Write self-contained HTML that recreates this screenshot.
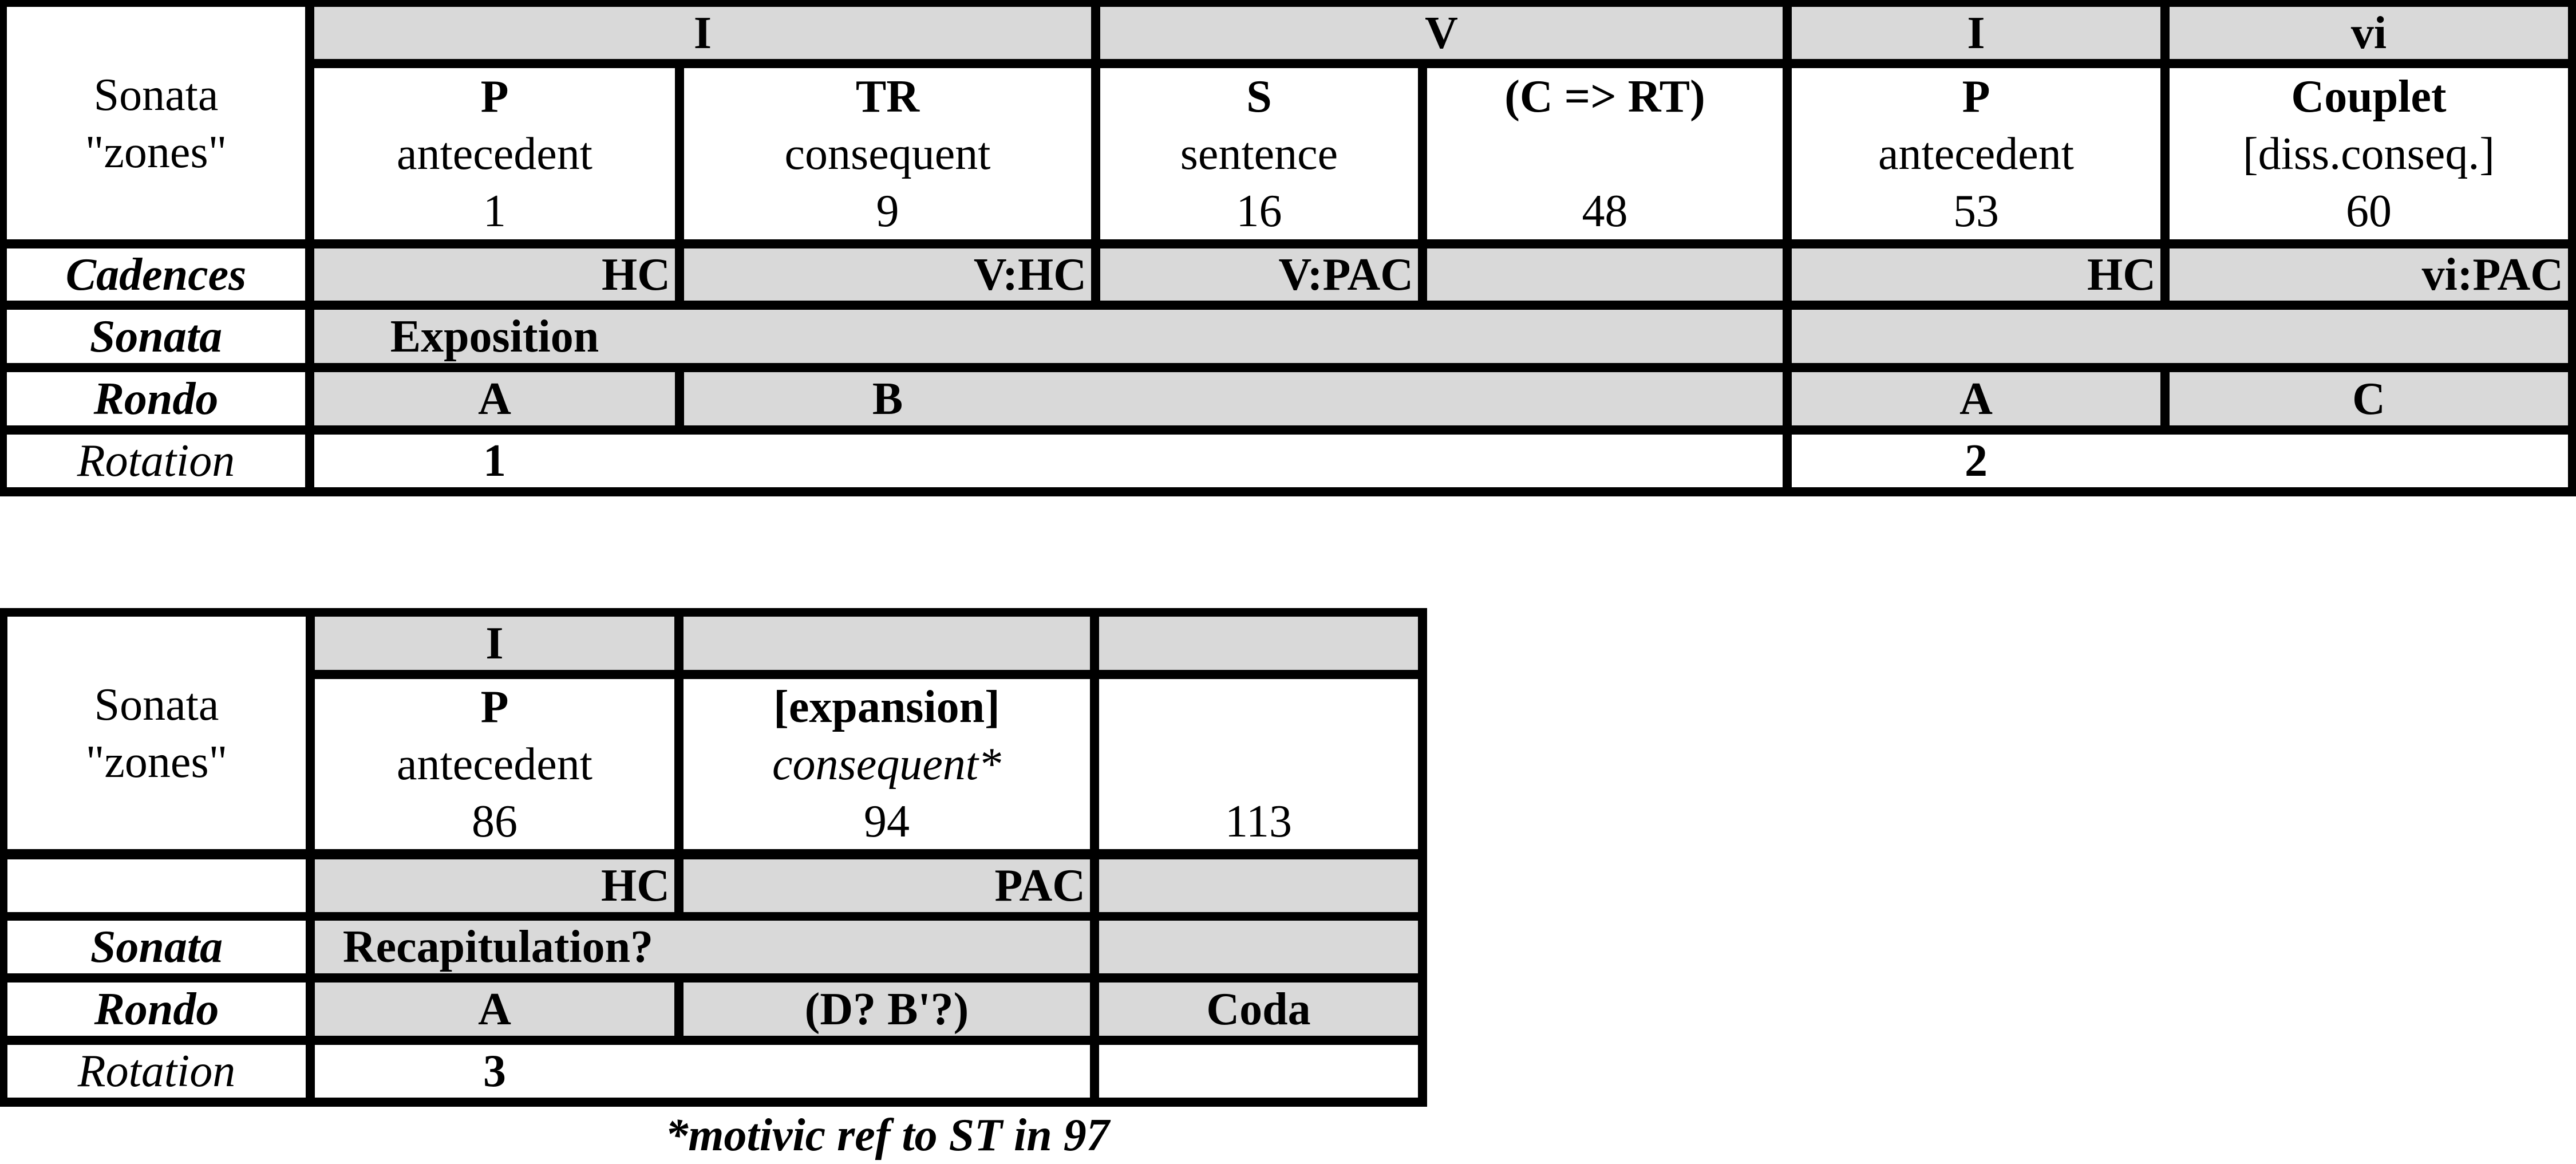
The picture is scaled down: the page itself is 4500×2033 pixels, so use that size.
<!DOCTYPE html>
<html><head><meta charset="utf-8"><style>
html,body{margin:0;padding:0;background:#fff;}
body{width:4500px;height:2032px;position:relative;overflow:hidden;font-family:"Liberation Serif",serif;font-size:80px;color:#000;}
.bk{position:absolute;background:#000;}
.c{position:absolute;background:#fff;display:flex;align-items:center;justify-content:center;text-align:center;line-height:100px;white-space:nowrap;overflow:visible;}
.g{background:#d9d9d9;}
.r{justify-content:flex-end;padding-right:8px;box-sizing:border-box;}
.b{font-weight:bold;}
.i{font-style:italic;}
.t{align-items:flex-start;padding-top:16px;box-sizing:border-box;}
</style></head><body>
<div class="bk" style="left:0;top:0;width:4500px;height:867px"></div>
<!-- row0 -->
<div class="c t" style="left:12px;top:12px;width:521px;height:406px;padding-top:104px">Sonata<br>"zones"</div>
<div class="c g b" style="left:549px;top:12px;width:1357px;height:91px">I</div>
<div class="c g b" style="left:1922px;top:12px;width:1192px;height:91px">V</div>
<div class="c g b" style="left:3130px;top:12px;width:644px;height:91px">I</div>
<div class="c g b" style="left:3790px;top:12px;width:696px;height:91px">vi</div>
<!-- row1 -->
<div class="c" style="left:549px;top:119px;width:630px;height:299px"><div><b>P</b><br>antecedent<br>1</div></div>
<div class="c" style="left:1195px;top:119px;width:711px;height:299px"><div><b>TR</b><br>consequent<br>9</div></div>
<div class="c" style="left:1922px;top:119px;width:555px;height:299px"><div><b>S</b><br>sentence<br>16</div></div>
<div class="c" style="left:2493px;top:119px;width:621px;height:299px"><div><b>(C =&gt; RT)</b><br>&nbsp;<br>48</div></div>
<div class="c" style="left:3130px;top:119px;width:644px;height:299px"><div><b>P</b><br>antecedent<br>53</div></div>
<div class="c" style="left:3790px;top:119px;width:696px;height:299px"><div><b>Couplet</b><br>[diss.conseq.]<br>60</div></div>
<!-- row2 -->
<div class="c b i" style="left:12px;top:434px;width:521px;height:91px">Cadences</div>
<div class="c g b r" style="left:549px;top:434px;width:630px;height:91px">HC</div>
<div class="c g b r" style="left:1195px;top:434px;width:711px;height:91px">V:HC</div>
<div class="c g b r" style="left:1922px;top:434px;width:555px;height:91px">V:PAC</div>
<div class="c g" style="left:2493px;top:434px;width:621px;height:91px"></div>
<div class="c g b r" style="left:3130px;top:434px;width:644px;height:91px">HC</div>
<div class="c g b r" style="left:3790px;top:434px;width:696px;height:91px">vi:PAC</div>
<!-- row3 -->
<div class="c b i" style="left:12px;top:541px;width:521px;height:93px">Sonata</div>
<div class="c g b" style="left:549px;top:541px;width:2565px;height:93px;justify-content:flex-start"><span style="display:inline-block;width:630px;text-align:center">Exposition</span></div>
<div class="c g" style="left:3130px;top:541px;width:1356px;height:93px"></div>
<!-- row4 -->
<div class="c b i" style="left:12px;top:650px;width:521px;height:93px">Rondo</div>
<div class="c g b" style="left:549px;top:650px;width:630px;height:93px">A</div>
<div class="c g b" style="left:1195px;top:650px;width:1919px;height:93px;justify-content:flex-start"><span style="display:inline-block;width:711px;text-align:center">B</span></div>
<div class="c g b" style="left:3130px;top:650px;width:644px;height:93px">A</div>
<div class="c g b" style="left:3790px;top:650px;width:696px;height:93px">C</div>
<!-- row5 -->
<div class="c i" style="left:12px;top:759px;width:521px;height:92px">Rotation</div>
<div class="c b" style="left:549px;top:759px;width:2565px;height:92px;justify-content:flex-start"><span style="display:inline-block;width:630px;text-align:center">1</span></div>
<div class="c b" style="left:3130px;top:759px;width:1356px;height:92px;justify-content:flex-start"><span style="display:inline-block;width:644px;text-align:center">2</span></div>

<!-- table 2 -->
<div class="bk" style="left:0;top:1062px;width:2493px;height:871px"></div>
<div class="c t" style="left:13px;top:1077px;width:521px;height:406px;padding-top:104px">Sonata<br>"zones"</div>
<div class="c g b" style="left:550px;top:1077px;width:628px;height:93px">I</div>
<div class="c g" style="left:1194px;top:1077px;width:710px;height:93px"></div>
<div class="c g" style="left:1920px;top:1077px;width:557px;height:93px"></div>
<div class="c" style="left:550px;top:1186px;width:628px;height:297px"><div><b>P</b><br>antecedent<br>86</div></div>
<div class="c" style="left:1194px;top:1186px;width:710px;height:297px"><div><b>[expansion]</b><br><i>consequent*</i><br>94</div></div>
<div class="c" style="left:1920px;top:1186px;width:557px;height:297px"><div>&nbsp;<br>&nbsp;<br>113</div></div>
<div class="c" style="left:13px;top:1501px;width:521px;height:92px"></div>
<div class="c g b r" style="left:550px;top:1501px;width:628px;height:92px">HC</div>
<div class="c g b r" style="left:1194px;top:1501px;width:710px;height:92px">PAC</div>
<div class="c g" style="left:1920px;top:1501px;width:557px;height:92px"></div>
<div class="c b i" style="left:13px;top:1608px;width:521px;height:92px">Sonata</div>
<div class="c g b" style="left:550px;top:1608px;width:1354px;height:92px;justify-content:flex-start"><span style="display:inline-block;width:640px;text-align:center">Recapitulation?</span></div>
<div class="c g" style="left:1920px;top:1608px;width:557px;height:92px"></div>
<div class="c b i" style="left:13px;top:1716px;width:521px;height:93px">Rondo</div>
<div class="c g b" style="left:550px;top:1716px;width:628px;height:93px">A</div>
<div class="c g b" style="left:1194px;top:1716px;width:710px;height:93px">(D? B'?)</div>
<div class="c g b" style="left:1920px;top:1716px;width:557px;height:93px">Coda</div>
<div class="c i" style="left:13px;top:1825px;width:521px;height:92px">Rotation</div>
<div class="c b" style="left:550px;top:1825px;width:1354px;height:92px;justify-content:flex-start"><span style="display:inline-block;width:628px;text-align:center">3</span></div>
<div class="c" style="left:1920px;top:1825px;width:557px;height:92px"></div>
<div class="c b i" style="left:1050px;top:1935px;width:1000px;height:95px;background:transparent">*motivic ref to ST in 97</div>
</body></html>
